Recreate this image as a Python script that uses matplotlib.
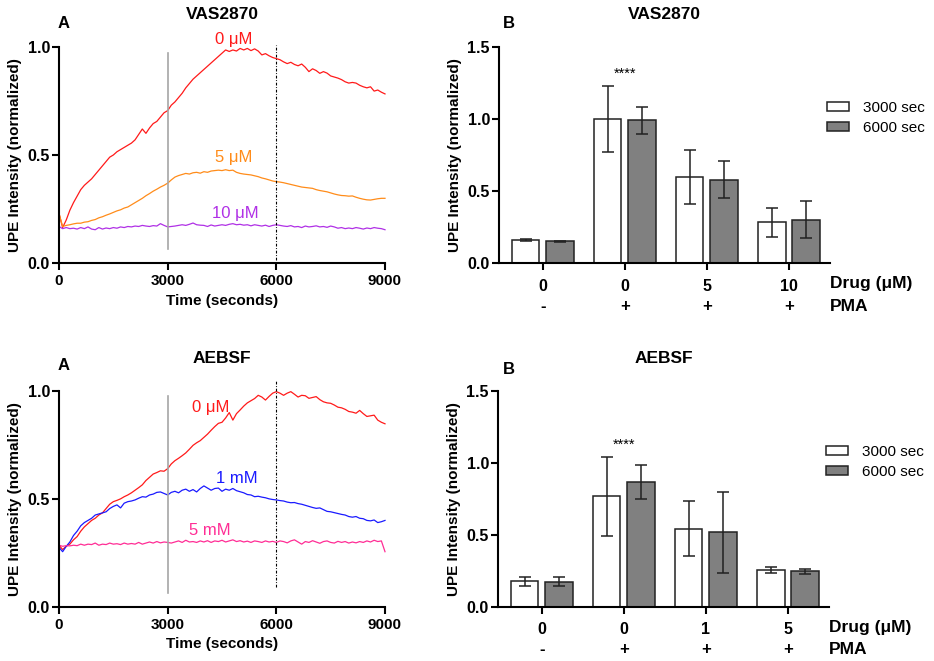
import numpy as np
import matplotlib
matplotlib.use('Agg')
import matplotlib.pyplot as plt
from matplotlib.ticker import FormatStrFormatter
from matplotlib.transforms import blended_transform_factory

plt.rcParams['font.family'] = ['Liberation Sans', 'DejaVu Sans']

# ---------------- time course data (100 s steps) ----------------
time_s = np.arange(0, 9001, 100)

vas_0uM = [0.23, 0.165, 0.20, 0.245, 0.28, 0.31, 0.34, 0.36, 0.375, 0.39,
           0.41, 0.43, 0.45, 0.47, 0.49, 0.50, 0.515, 0.525, 0.535, 0.545,
           0.555, 0.57, 0.595, 0.62, 0.60, 0.625, 0.645, 0.655, 0.675, 0.695,
           0.705, 0.73, 0.745, 0.765, 0.785, 0.81, 0.83, 0.85, 0.865, 0.88,
           0.895, 0.91, 0.925, 0.94, 0.955, 0.97, 0.985, 0.978, 0.985, 0.98,
           0.992, 0.985, 0.992, 0.982, 0.99, 0.98, 0.962, 0.968, 0.958, 0.95,
           0.945, 0.94, 0.93, 0.922, 0.928, 0.918, 0.912, 0.92, 0.905, 0.885,
           0.898, 0.89, 0.877, 0.885, 0.878, 0.865, 0.86, 0.855, 0.848, 0.838,
           0.832, 0.835, 0.832, 0.822, 0.815, 0.81, 0.815, 0.795, 0.80, 0.79,
           0.782]

vas_5uM = [0.23, 0.17, 0.175, 0.178, 0.182, 0.185, 0.185, 0.19, 0.192, 0.198,
           0.202, 0.21, 0.215, 0.222, 0.228, 0.235, 0.242, 0.247, 0.255, 0.26,
           0.27, 0.28, 0.29, 0.30, 0.312, 0.322, 0.333, 0.342, 0.352, 0.36,
           0.37, 0.385, 0.398, 0.405, 0.41, 0.415, 0.412, 0.418, 0.42, 0.416,
           0.423, 0.42, 0.426, 0.428, 0.43, 0.428, 0.432, 0.428, 0.43, 0.42,
           0.415, 0.412, 0.41, 0.408, 0.404, 0.40, 0.394, 0.39, 0.385, 0.38,
           0.377, 0.375, 0.372, 0.368, 0.364, 0.36, 0.356, 0.352, 0.35, 0.348,
           0.346, 0.34, 0.336, 0.333, 0.33, 0.325, 0.32, 0.316, 0.313, 0.312,
           0.31, 0.311, 0.305, 0.30, 0.296, 0.293, 0.292, 0.295, 0.298, 0.30,
           0.30]

vas_10uM = [0.17, 0.16, 0.165, 0.16, 0.162, 0.158, 0.165, 0.16, 0.168, 0.158,
            0.155, 0.165, 0.158, 0.163, 0.16, 0.165, 0.162, 0.168, 0.165, 0.17,
            0.168, 0.172, 0.17, 0.175, 0.172, 0.17, 0.174, 0.172, 0.183, 0.175,
            0.168, 0.17, 0.172, 0.175, 0.178, 0.175, 0.18, 0.186, 0.178, 0.176,
            0.175, 0.17, 0.177, 0.172, 0.175, 0.178, 0.175, 0.18, 0.183, 0.178,
            0.18, 0.176, 0.178, 0.173, 0.178, 0.175, 0.172, 0.176, 0.17, 0.175,
            0.178, 0.175, 0.172, 0.17, 0.174, 0.168, 0.17, 0.165, 0.172, 0.168,
            0.17, 0.173, 0.168, 0.17, 0.166, 0.172, 0.168, 0.162, 0.165, 0.16,
            0.163, 0.16, 0.165, 0.162, 0.158, 0.163, 0.16, 0.165, 0.162, 0.16,
            0.155]

aebsf_0uM = [0.285, 0.265, 0.28, 0.29, 0.31, 0.325, 0.35, 0.37, 0.385, 0.40,
             0.41, 0.425, 0.435, 0.455, 0.475, 0.487, 0.493, 0.50, 0.51, 0.518,
             0.528, 0.54, 0.552, 0.565, 0.585, 0.60, 0.615, 0.622, 0.63, 0.628,
             0.64, 0.662, 0.677, 0.688, 0.70, 0.713, 0.73, 0.748, 0.76, 0.77,
             0.785, 0.80, 0.818, 0.835, 0.85, 0.855, 0.875, 0.90, 0.865, 0.895,
             0.912, 0.93, 0.945, 0.955, 0.965, 0.98, 0.972, 0.958, 0.975, 0.99,
             0.997, 0.99, 0.98, 0.99, 0.997, 0.985, 0.972, 0.98, 0.978, 0.966,
             0.97, 0.974, 0.96, 0.95, 0.945, 0.943, 0.935, 0.925, 0.922, 0.915,
             0.905, 0.902, 0.897, 0.91, 0.895, 0.882, 0.885, 0.888, 0.865, 0.855,
             0.848]

aebsf_1mM = [0.275, 0.255, 0.28, 0.30, 0.33, 0.35, 0.375, 0.39, 0.40, 0.41,
             0.425, 0.43, 0.435, 0.44, 0.455, 0.465, 0.472, 0.458, 0.48, 0.487,
             0.49, 0.495, 0.503, 0.51, 0.508, 0.518, 0.522, 0.53, 0.532, 0.525,
             0.518, 0.53, 0.535, 0.528, 0.54, 0.545, 0.535, 0.543, 0.532, 0.548,
             0.56, 0.55, 0.54, 0.548, 0.55, 0.535, 0.545, 0.54, 0.548, 0.538,
             0.533, 0.528, 0.52, 0.518, 0.51, 0.512, 0.508, 0.505, 0.50, 0.497,
             0.495, 0.492, 0.49, 0.485, 0.482, 0.483, 0.478, 0.475, 0.47, 0.465,
             0.46, 0.456, 0.458, 0.45, 0.442, 0.44, 0.436, 0.432, 0.428, 0.425,
             0.418, 0.415, 0.418, 0.41, 0.408, 0.40, 0.398, 0.402, 0.39, 0.394,
             0.40]

aebsf_5mM = [0.285, 0.28, 0.283, 0.282, 0.285, 0.283, 0.29, 0.285, 0.29, 0.288,
             0.295, 0.285, 0.29, 0.288, 0.295, 0.29, 0.292, 0.288, 0.295, 0.29,
             0.293, 0.29, 0.298, 0.29, 0.295, 0.30, 0.295, 0.302, 0.296, 0.30,
             0.298, 0.295, 0.30, 0.305, 0.298, 0.308, 0.30, 0.302, 0.298, 0.305,
             0.30, 0.306, 0.298, 0.305, 0.302, 0.308, 0.30, 0.305, 0.31, 0.302,
             0.306, 0.30, 0.304, 0.298, 0.305, 0.302, 0.298, 0.305, 0.30, 0.303,
             0.298, 0.305, 0.302, 0.296, 0.305, 0.31, 0.30, 0.29, 0.302, 0.298,
             0.306, 0.30, 0.294, 0.302, 0.305, 0.298, 0.295, 0.303, 0.298, 0.302,
             0.295, 0.30, 0.296, 0.302, 0.298, 0.305, 0.30, 0.308, 0.302, 0.305,
             0.255]

# ---------------- bar data ----------------
pma_labels = ['-', '+', '+', '+']
vas_drug = ['0', '0', '5', '10']
vas_3000 = [0.16, 1.00, 0.595, 0.283]
vas_3000_err = [0.008, 0.23, 0.187, 0.10]
vas_6000 = [0.152, 0.99, 0.58, 0.302]
vas_6000_err = [0.005, 0.095, 0.13, 0.13]

aebsf_drug = ['0', '0', '1', '5']
aebsf_3000 = [0.178, 0.767, 0.543, 0.253]
aebsf_3000_err = [0.032, 0.276, 0.19, 0.02]
aebsf_6000 = [0.175, 0.865, 0.517, 0.246]
aebsf_6000_err = [0.03, 0.118, 0.28, 0.017]

RED = '#ff1a1a'
ORANGE = '#ff8c1a'
PURPLE = '#b030e6'
BLUE = '#1a1aff'
PINK = '#ff2d95'

W, H = 934, 661
fig = plt.figure(figsize=(W / 100, H / 100), dpi=100)


def rect(x0, y0, x1, y1):
    return [x0 / W, 1 - y1 / H, (x1 - x0) / W, (y1 - y0) / H]


def style_axes(ax):
    for s in ['top', 'right']:
        ax.spines[s].set_visible(False)
    for s in ['left', 'bottom']:
        ax.spines[s].set_linewidth(1.5)
    ax.tick_params(direction='out', length=5, width=1.5, pad=3)
    ax.tick_params(axis='x', labelsize=11)
    ax.tick_params(axis='y', labelsize=11.5, pad=1.5)
    for lab in ax.get_xticklabels() + ax.get_yticklabels():
        lab.set_fontweight('bold')


def time_panel(r, curves, labels, title, gray_span, dot_span):
    ax = fig.add_axes(r)
    for vals, c in curves:
        ax.plot(time_s, vals, color=c, lw=0.9, clip_on=False)
    ax.plot([3000, 3000], gray_span, color='#a6a6a6', lw=1.2)
    ax.plot([6000, 6000], dot_span, color='black', lw=0.8,
            ls=(0, (2.5, 1.5, 0.8, 1.5)), clip_on=False)
    ax.set_xlim(0, 9000)
    ax.set_ylim(0, 1.0)
    ax.set_xticks([0, 3000, 6000, 9000])
    ax.set_yticks([0, 0.5, 1.0])
    ax.yaxis.set_major_formatter(FormatStrFormatter('%.1f'))
    style_axes(ax)
    ax.set_xlabel('Time (seconds)', fontsize=11, fontweight='bold', labelpad=4)
    ax.set_ylabel('UPE Intensity (normalized)', fontsize=11, fontweight='bold', labelpad=4)
    ax.set_title(title, fontsize=12.5, fontweight='bold', pad=20)
    for (tx, ty, s, c) in labels:
        ax.text(tx, ty, s, color=c, fontsize=12, ha='center', va='center', clip_on=False)
    return ax


def bar_panel(r, drug, v3, e3, v6, e6, title):
    ax = fig.add_axes(r)
    x = np.arange(len(drug))
    w = 0.337
    ekw = dict(elinewidth=1.1, capthick=1.1, ecolor='#222222')
    ax.bar(x - 0.21, v3, w, yerr=e3, color='white', edgecolor='#222222', lw=1.1,
           capsize=4, error_kw=ekw, label='3000 sec')
    ax.bar(x + 0.21, v6, w, yerr=e6, color='#808080', edgecolor='#222222', lw=1.1,
           capsize=4, error_kw=ekw, label='6000 sec')
    ax.set_xlim(-0.533, 3.5)
    ax.set_ylim(0, 1.5)
    ax.set_yticks([0, 0.5, 1.0, 1.5])
    ax.yaxis.set_major_formatter(FormatStrFormatter('%.1f'))
    ax.set_xticks(x)
    ax.set_xticklabels(drug)
    style_axes(ax)
    ax.tick_params(axis='x', pad=6, labelsize=11.5)
    for lab in ax.get_xticklabels():
        lab.set_fontweight('bold')
    ax.set_ylabel('UPE Intensity (normalized)', fontsize=11, fontweight='bold', labelpad=4)
    ax.set_title(title, fontsize=12.5, fontweight='bold', pad=20)
    tr = blended_transform_factory(ax.transData, ax.transAxes)
    for xi, p in zip(x, pma_labels):
        ax.text(xi, -0.20, p, transform=tr, ha='center', va='center',
                fontsize=12, fontweight='bold')
    ax.text(1.0, -0.095, 'Drug (\u03bcM)', transform=ax.transAxes, ha='left', va='center',
            fontsize=12.5, fontweight='bold')
    ax.text(1.0, -0.20, 'PMA', transform=ax.transAxes, ha='left', va='center',
            fontsize=12.5, fontweight='bold')
    ax.text(1, v3[1] + e3[1] + 0.08, '****', ha='center', va='center', fontsize=10.5)
    ax.legend(loc='upper left', bbox_to_anchor=(0.99, 0.75), frameon=False, fontsize=11,
              handlelength=1.45, handleheight=0.5, handletextpad=0.95, labelspacing=0.4,
              borderaxespad=0, borderpad=0)
    return ax


time_panel(rect(59, 46.7, 385, 263.3),
           [(vas_0uM, RED), (vas_5uM, ORANGE), (vas_10uM, PURPLE)],
           [(4820, 1.035, '0 \u03bcM', RED), (4820, 0.49, '5 \u03bcM', ORANGE),
            (4870, 0.23, '10 \u03bcM', PURPLE)],
           'VAS2870', [0.068, 0.97], [0.015, 1.01])

time_panel(rect(59, 391, 385, 606.7),
           [(aebsf_0uM, RED), (aebsf_1mM, BLUE), (aebsf_5mM, PINK)],
           [(4200, 0.925, '0 \u03bcM', RED), (4900, 0.595, '1 mM', BLUE),
            (4170, 0.355, '5 mM', PINK)],
           'AEBSF', [0.062, 0.975], [0.09, 1.05])

bar_panel(rect(499, 46.7, 830, 263.3), vas_drug, vas_3000, vas_3000_err,
          vas_6000, vas_6000_err, 'VAS2870')
bar_panel(rect(498, 391, 829, 606.7), aebsf_drug, aebsf_3000, aebsf_3000_err,
          aebsf_6000, aebsf_6000_err, 'AEBSF')

for (px, py, s) in [(58, 23, 'A'), (503, 23, 'B'), (58, 366, 'A'), (503, 369, 'B')]:
    fig.text(px / W, 1 - py / H, s, fontsize=12, fontweight='bold', ha='left', va='center')

fig.savefig('out.png', dpi=100)
